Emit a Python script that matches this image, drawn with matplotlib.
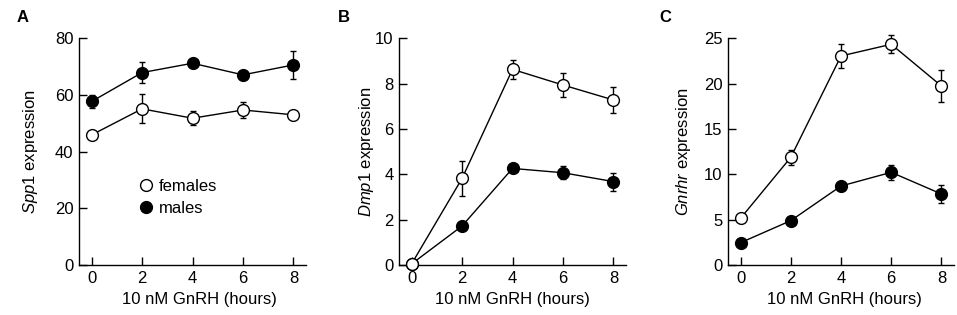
import matplotlib
matplotlib.use("Agg")
import matplotlib.pyplot as plt
from matplotlib.lines import Line2D

plt.rcParams['font.family'] = ['Liberation Sans', 'DejaVu Sans']
plt.rcParams['mathtext.fontset'] = 'custom'
plt.rcParams['mathtext.it'] = 'Liberation Sans:italic'
plt.rcParams['mathtext.rm'] = 'Liberation Sans'

hours = [0, 2, 4, 6, 8]

# Panel A: Spp1
spp1_fem = [45.9, 55.1, 51.8, 54.7, 53.0]
spp1_fem_err = [1.2, 5.1, 2.4, 2.8, 0.8]
spp1_male = [57.7, 67.9, 71.2, 67.1, 70.6]
spp1_male_err = [2.2, 3.6, 0.8, 0.8, 5.0]

# Panel B: Dmp1
dmp1_fem = [0.05, 3.82, 8.63, 7.94, 7.28]
dmp1_fem_err = [0.05, 0.78, 0.42, 0.54, 0.57]
dmp1_male = [0.05, 1.72, 4.26, 4.07, 3.68]
dmp1_male_err = [0.05, 0.12, 0.12, 0.28, 0.40]

# Panel C: Gnrhr
gnrhr_fem = [5.15, 11.87, 23.05, 24.34, 19.74]
gnrhr_fem_err = [0.3, 0.8, 1.3, 1.0, 1.75]
gnrhr_male = [2.46, 4.89, 8.71, 10.22, 7.83]
gnrhr_male_err = [0.2, 0.3, 0.3, 0.8, 0.95]

panels = [
    ("A", r"$\it{Spp1}$ expression", 80, [0, 20, 40, 60, 80],
     spp1_fem, spp1_fem_err, spp1_male, spp1_male_err),
    ("B", r"$\it{Dmp1}$ expression", 10, [0, 2, 4, 6, 8, 10],
     dmp1_fem, dmp1_fem_err, dmp1_male, dmp1_male_err),
    ("C", r"$\it{Gnrhr}$ expression", 25, [0, 5, 10, 15, 20, 25],
     gnrhr_fem, gnrhr_fem_err, gnrhr_male, gnrhr_male_err),
]

W, H = 957, 315
fig = plt.figure(figsize=(W / 100, H / 100), dpi=100)
lefts = [79, 399, 728]
widths = [227, 227, 226]
bottom_px, top_px = 265, 38.3
letter_x = [17, 338, 659]
ylab_x = [-0.214, -0.145, -0.195]
xlab_x = [0.529, 0.498, 0.515]

FS = 12
for i, (letter, ylab, ymax, yticks, fy, fe, my, me) in enumerate(panels):
    ax = fig.add_axes([lefts[i] / W, (H - bottom_px) / H, widths[i] / W,
                       (bottom_px - top_px) / H])
    ax.errorbar(hours, my, yerr=me, color='black', lw=1.0, marker='o',
                ms=8.5, mfc='black', mec='black', mew=1.0, capsize=2.5,
                capthick=1.0, elinewidth=1.0, clip_on=False, zorder=3)
    ax.errorbar(hours, fy, yerr=fe, color='black', lw=1.0, marker='o',
                ms=8.5, mfc='white', mec='black', mew=1.0, capsize=2.5,
                capthick=1.0, elinewidth=1.0, clip_on=False, zorder=4)
    ax.set_xlim(-0.5, 8.5)
    ax.set_ylim(0, ymax)
    ax.set_xticks(hours)
    ax.set_yticks(yticks)
    for s in ['top', 'right']:
        ax.spines[s].set_visible(False)
    for s in ['left', 'bottom']:
        ax.spines[s].set_linewidth(1.0)
    ax.tick_params(direction='in', length=6, width=1.0, labelsize=FS, pad=4)
    ax.set_xlabel("10 nM GnRH (hours)", fontsize=FS, va='center')
    ax.set_ylabel(ylab, fontsize=FS, va='center')
    ax.xaxis.set_label_coords(xlab_x[i], -0.152)
    ax.yaxis.set_label_coords(ylab_x[i], 0.5)
    fig.text(letter_x[i] / W, 1 - 17.5 / H, letter, fontsize=12,
             fontweight='bold', va='center', ha='left')
    if i == 0:
        handles = [
            Line2D([], [], ls='none', marker='o', ms=8.5, mfc='white',
                   mec='black', mew=1.0),
            Line2D([], [], ls='none', marker='o', ms=8.5, mfc='black',
                   mec='black', mew=1.0),
        ]
        ax.legend(handles, ["females", "males"], frameon=False,
                  loc='upper left', bbox_to_anchor=(0.22, 0.415),
                  fontsize=FS, handlelength=1.0, handletextpad=0.3,
                  labelspacing=0.4, borderpad=0)

fig.savefig("out.png", dpi=100)
